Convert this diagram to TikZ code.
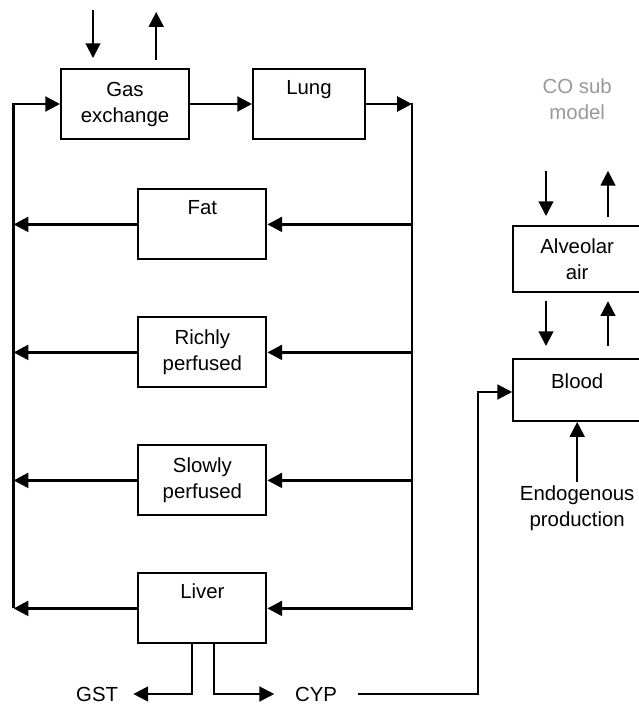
\documentclass[tikz,border=0pt]{standalone}
\usepackage{fontspec}
\setmainfont{Liberation Sans}
\usetikzlibrary{arrows.meta}

\begin{document}
\begin{tikzpicture}[>={Triangle[length=10.5pt,width=10.5pt]},
        font=\fontsize{14.5}{18.5}\selectfont,
        box/.style={draw,line width=1.4pt,minimum width=3.2cm,minimum height=1.75cm,inner sep=0pt,align=center},
        flow/.style={line width=2pt,->},
        thinflow/.style={line width=1.5pt,->}]
    \useasboundingbox (0,0) rectangle (15.95,-17.6);
    \coordinate (lt) at (0.34,-2.6);
    \coordinate (rt) at (10.3,-2.6);
    \node[box] at (3.125,-2.6)(gas){Gas\\exchange};
    \node[box,minimum width=2.8cm] at (7.725,-2.6)(lung){Lung\\\strut};
    \path[draw,thinflow] ([shift={(-.8,1.45)}]gas.north) -- ([shift={(-.8,.25)}]gas.north);
    \path[draw,thinflow] ([shift={(.78,.2)}]gas.north) -- ([shift={(.78,1.4)}]gas.north);
    \foreach \name/\txt [count=\i] in {fat/{Fat\\\strut},rich/{Richly\\perfused},slow/{Slowly\\perfused},liver/{Liver\\\strut}}{
        \node[box] at (5.06,-2.41-3.2*\i)(\name){\txt};
        \path[draw,flow] (\name.east -| rt) -- (\name.east);
        \path[draw,flow] (\name.west) -- (\name.west -| lt);
    }
    \path[draw,flow] (liver.west -| lt) -- (lt) -- (gas.west);
    \path[draw,flow] (gas.east) -- (lung.west);
    \path[draw,flow] (lung.east) -- (rt);
    \draw[line width=2pt,line cap=rect] (rt) -- (liver.east -| rt);
    % metabolism
    \node[inner sep=0pt,outer xsep=.38cm] at (2.43,-17.35)(gst){GST};
    \node[inner sep=0pt,outer xsep=.52cm] at (7.9,-17.35)(cyp){CYP};
    \path[draw,thinflow] ([xshift=-.26cm]liver.south) |- (gst.east);
    \path[draw,thinflow] ([xshift=.29cm]liver.south) |- (cyp.west);
    % CO sub model
    \node[text=black!40,align=center] at (14.43,-2.48)(co){CO sub\\model};
    \node[box,minimum height=1.65cm] at (14.43,-6.48)(alv){Alveolar\\air};
    \node[box,minimum height=1.55cm] at (14.43,-9.75)(blood){Blood\\[-.4cm]\strut};
    \node[inner sep=2pt,align=center] at (14.43,-12.7)(endo){Endogenous\\production};
    \coordinate (turn) at (11.95,-9.8);
    \path[draw,thinflow] ([shift={(-.78,1.36)}]alv.north) -- ([shift={(-.78,.23)}]alv.north);
    \path[draw,thinflow] ([shift={(.77,.2)}]alv.north) -- ([shift={(.77,1.36)}]alv.north);
    \path[draw,thinflow] ([shift={(-.78,-.2)}]alv.south) -- ([shift={(-.78,.3)}]blood.north);
    \path[draw,thinflow] ([shift={(.77,.3)}]blood.north) -- ([shift={(.77,-.2)}]alv.south);
    \path[draw,thinflow] (endo) -- (blood);
    \path[draw,thinflow] (cyp.east) -| (turn) -- (turn -| blood.west);
\end{tikzpicture}
\end{document}
